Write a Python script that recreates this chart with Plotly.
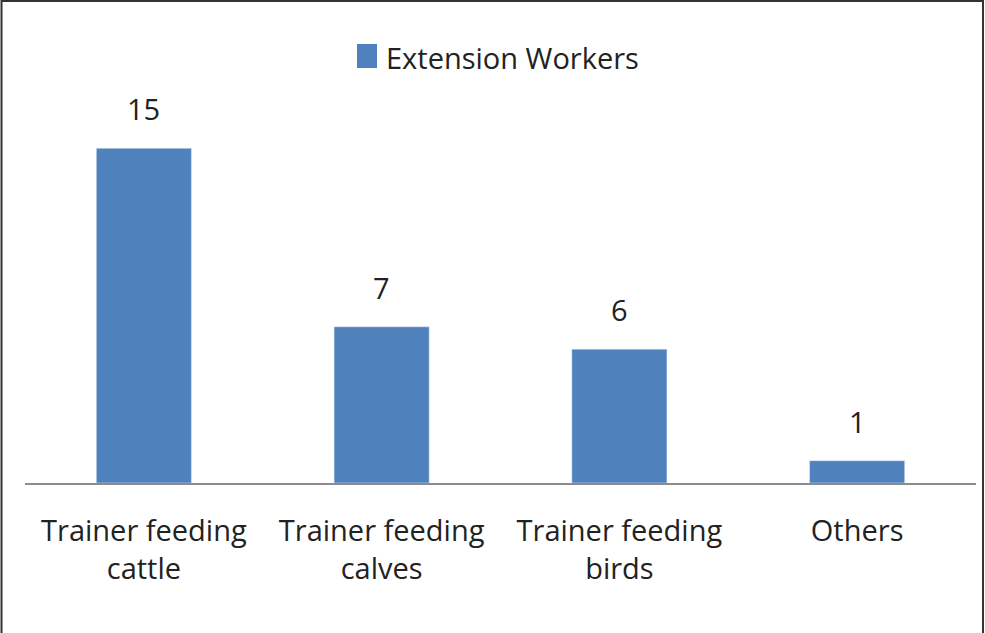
import plotly.graph_objects as go

categories = ["Trainer feeding<br>cattle", "Trainer feeding<br>calves", "Trainer feeding<br>birds", "Others"]
values = [15, 7, 6, 1]
series_name = "Extension Workers"
bar_color = "#4F81BD"

W, H = 985, 633
L, R, T, B = 25, 9, 126, 150
pw = W - L - R
ph = H - T - B

def px_x(p):
    return (p - L) / pw

def px_y(p):
    return (H - B - p) / ph

fig = go.Figure()
fig.add_trace(go.Bar(
    x=categories, y=values, name=series_name,
    marker=dict(color=bar_color),
    width=0.4,
    showlegend=False,
    hoverinfo="x+y",
))
for c, v in zip(categories, values):
    fig.add_annotation(x=c, y=v, text=str(v), showarrow=False, yanchor="bottom",
                       yshift=18, font=dict(size=29, color="#222222"))

# legend drawn manually
fig.add_shape(type="rect", xref="paper", yref="paper",
              x0=px_x(357), x1=px_x(377), y0=px_y(68), y1=px_y(44),
              fillcolor=bar_color, line=dict(width=0))
fig.add_annotation(xref="paper", yref="paper", x=px_x(384), y=px_y(57),
                   xanchor="left", yanchor="middle", text=series_name, showarrow=False,
                   font=dict(size=29, color="#222222"))
# outer frame
fig.add_shape(type="rect", xref="paper", yref="paper",
              x0=px_x(1.5), x1=px_x(983), y0=px_y(660), y1=px_y(1),
              line=dict(color="#333333", width=2), fillcolor="rgba(0,0,0,0)", layer="above")

fig.update_layout(
    width=W, height=H,
    margin=dict(l=L, r=R, t=T, b=B),
    paper_bgcolor="white", plot_bgcolor="white",
    font=dict(family="Open Sans", color="#222222"),
    showlegend=False,
    xaxis=dict(showline=True, linecolor="#8c8c8c", linewidth=2, ticks="",
               tickfont=dict(size=29, color="#222222"), showgrid=False,
               ticklabelstandoff=21),
    yaxis=dict(range=[0, 16], visible=False, showgrid=False, zeroline=False),
    bargap=0.6,
)
fig.write_html("out.html", config={"displayModeBar": False},
               post_script="document.body.style.margin='0';")
